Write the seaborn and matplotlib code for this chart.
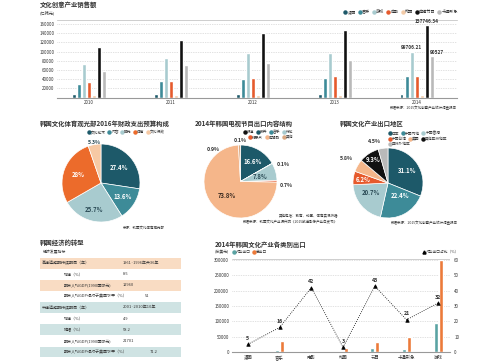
import numpy as np
import pandas as pd
import matplotlib
matplotlib.use("Agg")
import matplotlib.pyplot as plt
import seaborn as sns
from matplotlib.lines import Line2D

sns.set_theme(style="white")
plt.rcParams['font.family'] = ['Noto Sans CJK SC', 'DejaVu Sans']
plt.rcParams['axes.unicode_minus'] = False

# ---------------- data ----------------
years = ['2010', '2011', '2012', '2013', '2014']
sales_series = ['漫画', '音乐', '游戏', '电影', '动画', '电视节目', '卡通形象']
sales_comic = [6600, 6800, 7000, 7300, 7600]
sales_music = [29500, 36500, 39500, 42000, 46000]
sales_game = [73000, 86000, 96000, 97000, 99706.21]
sales_film = [33000, 37000, 43500, 46000, 46000]
sales_anim = [5000, 5200, 5300, 5300, 5400]
sales_tv = [111000, 126000, 141000, 147500, 157746.34]
sales_char = [57500, 70000, 75000, 82500, 90527]
sales_labeled = {'游戏': 'center', '电视节目': 'center', '卡通形象': 'left'}

budget_labels = ['文化艺术', '内容', '观光', '体育', '文化行政']
budget_share = [27.4, 13.6, 25.7, 28.0, 5.3]

tv_labels = ['报道', '教养', '音乐', '综艺', '纪录片', '电视剧', '其他']
tv_share = [0.1, 16.6, 0.1, 7.8, 0.7, 73.8, 0.9]

region_labels = ['日本', '中国内地', '中国香港', '中国台湾', '美国', '其他亚洲地区', '亚洲外地区']
region_share = [31.1, 22.4, 20.7, 6.2, 5.8, 9.3, 4.5]

econ_labels = ['高速追赶期持续期间（年）', '增速（%）', '期末人均GDP(1990国际元)',
               '期末人均GDP相对于美国水平（%）', '中速追赶期持续期间（年）', '增速（%）',
               '降幅（%）', '期末人均GDP(1990国际元)', '期末人均GDP相对于美国水平（%）']
econ_values = ['1961~1996年共36年', '8.5', '12960', '51', '2001~2010年10年',
               '4.9', '58.2', '21701', '71.2']

export_cats = ['漫画', '音乐', '电影', '动画', '节目', '卡通形象', '游戏']
export_china = [300, 5400, 1100, 400, 14400, 10300, 95000]
export_total = [2900, 35000, 2600, 14000, 33600, 48900, 300000]
china_ratio = [5, 16, 42, 3, 43, 21, 32]

# ---------------- styles ----------------
DT, TE, LB, OR, PE, BK, GR = '#1d5969', '#3d8b98', '#a8cbcf', '#e65a2c', '#f5b68a', '#111111', '#b9b9b9'
sales_colors = [DT, TE, LB, OR, '#f3cba8', BK, GR]
budget_colors = [DT, TE, LB, '#ec6b2b', '#f6c9a4']
tv_colors = [BK, DT, TE, LB, OR, PE, '#d9a882']
region_colors = [DT, TE, LB, OR, PE, BK, GR]
TXT = '#333333'

W, H = 500, 362
fig = plt.figure(figsize=(5, 3.62), dpi=100)
fig.patch.set_facecolor('white')


def px_axes(x0, y0, x1, y1):
    return fig.add_axes([x0 / W, 1 - y1 / H, (x1 - x0) / W, (y1 - y0) / H])


def ftext(x, y, s, **kw):
    kw.setdefault('va', 'center')
    kw.setdefault('color', TXT)
    return fig.text(x / W, 1 - y / H, s, **kw)


def legend_row(labels, colors, x, y, ha='right', marker='o', fs=2.7, ms=2.2):
    handles = [Line2D([], [], marker=marker, ls='', markerfacecolor=c,
                      markeredgecolor=c, markersize=ms) for c in colors]
    loc = 'center right' if ha == 'right' else 'center left'
    lg = fig.legend(handles, labels, loc=loc, bbox_to_anchor=(x / W, 1 - y / H),
                    ncol=len(labels), frameon=False, fontsize=fs, handlelength=0.5,
                    handletextpad=0.25, columnspacing=0.7, borderpad=0, borderaxespad=0)
    for t in lg.get_texts():
        t.set_color(TXT)
    return lg


# ---------------- top bar chart ----------------
sales_values = [sales_comic, sales_music, sales_game, sales_film, sales_anim, sales_tv, sales_char]
df_sales = pd.DataFrame([(y, s, v[i]) for s, v in zip(sales_series, sales_values)
                         for i, y in enumerate(years)], columns=['year', 'series', 'value'])
ax1 = px_axes(57, 20, 457, 97.5)
sns.barplot(data=df_sales, x='year', y='value', hue='series', hue_order=sales_series,
            order=years, palette=sales_colors, width=0.43, gap=0.3, saturation=1,
            legend=False, ax=ax1)
ax1.set_xlim(-0.39, 4.49)
ax1.set_ylim(0, 169000)
yt = np.arange(20000, 160001, 20000)
ax1.set_yticks(yt)
ax1.set_yticklabels([str(v) for v in yt])
ax1.yaxis.grid(True, linestyle=(0, (1, 1.5)), color='#c4c4c4', lw=0.5)
ax1.set_axisbelow(True)
for s in ['left', 'right']:
    ax1.spines[s].set_visible(False)
ax1.spines['bottom'].set_color('#999999')
ax1.spines['bottom'].set_linewidth(0.8)
ax1.spines['top'].set_color('#bbbbbb')
ax1.spines['top'].set_linewidth(0.5)
ax1.tick_params(axis='both', length=0, labelsize=3.2, colors=TXT, pad=2)
ax1.set_xlabel('')
ax1.set_ylabel('')
for si, s in enumerate(sales_series):
    if s in sales_labeled:
        bar = ax1.containers[si][len(years) - 1]
        v = sales_values[si][-1]
        lab = ('%.2f' % v).rstrip('0').rstrip('.')
        ha = sales_labeled[s]
        xx = bar.get_x() + (bar.get_width() / 2 if ha == 'center' else 0)
        ax1.text(xx, bar.get_height() + 3000, lab, ha=ha, va='bottom', fontsize=3.4,
                 fontweight='bold', color=TXT)

ftext(40, 5, '文化创意产业销售额', fontsize=4.6, fontweight='bold', ha='left')
ftext(40, 12.5, '(亿韩元)', fontsize=3.0, ha='left')
legend_row(sales_series, sales_colors, 458, 12, fs=3.0)
ftext(457, 108, '数据来源：2015文化创意产业统计调查报告', fontsize=2.5, ha='right')


# ---------------- pies ----------------
def draw_pie(box, shares, colors, label_spec):
    ax = px_axes(*box)
    wedges, _ = ax.pie(shares, colors=colors, startangle=90, counterclock=False,
                       wedgeprops=dict(edgecolor='white', linewidth=0.5))
    ax.set_xlim(-1, 1)
    ax.set_ylim(-1, 1)
    ax.set_aspect('equal')
    ax.axis('off')
    for w, v, (dist, nudge, col) in zip(wedges, shares, label_spec):
        th = np.deg2rad((w.theta1 + w.theta2) / 2 + nudge)
        lab = ('%.1f' % v).rstrip('0').rstrip('.') + '%'
        ax.text(dist * np.cos(th), dist * np.sin(th), lab, ha='center', va='center',
                fontsize=4.3 if dist < 1 else 3.8, fontweight='bold', color=col,
                clip_on=False)
    return ax


# pie 1
draw_pie((62, 144, 140, 222), budget_share, budget_colors,
         [(0.62, 0, 'white'), (0.65, 0, 'white'), (0.7, 0, '#2a4a55'),
          (0.62, 0, 'white'), (1.05, 0, '#2a4a55')])
ftext(40, 123, '韩国文化体育观光部2016年财政支出预算构成', fontsize=4.6, fontweight='bold', ha='left')
legend_row(budget_labels, budget_colors, 165, 132)
ftext(165, 228, '来源：韩国文化体育观光部', fontsize=2.5, ha='right')

# pie 2
draw_pie((203, 145, 278, 218), tv_share, tv_colors,
         [(1.12, 0, TXT), (0.65, 0, 'white'), (1.25, -8, TXT), (0.55, 0, '#2a4a55'),
          (1.25, -5, TXT), (0.52, 0, '#3a2a20'), (1.15, 38, TXT)])
ftext(195, 123, '2014年韩国电视节目出口内容结构', fontsize=4.6, fontweight='bold', ha='left')
legend_row(tv_labels[:4], tv_colors[:4], 293, 132)
legend_row(tv_labels[4:], tv_colors[4:], 293, 137.5)
ftext(338, 216, '其他包括：教育、动画、体育实况转播', fontsize=2.5, ha='right')
ftext(338, 222, '数据来源：韩国文化产业振兴院《2015放送影像产业白皮书》', fontsize=2.5, ha='right')

# pie 3
draw_pie((353, 148, 423, 218), region_share, region_colors,
         [(0.65, 0, 'white'), (0.5, 15, 'white'), (0.55, -12, '#2a4a55'),
          (0.72, 0, 'white'), (1.38, 0, TXT), (0.8, 0, 'white'), (1.25, 10, TXT)])
ftext(340, 123, '韩国文化产业出口地区', fontsize=4.6, fontweight='bold', ha='left')
legend_row(region_labels[:3], region_colors[:3], 389, 133.5, ha='left')
legend_row(region_labels[3:6], region_colors[3:6], 389, 139, ha='left')
legend_row(region_labels[6:], region_colors[6:], 389, 144.5, ha='left')
ftext(458, 223.5, '数据来源：2015文化创意产业统计调查报告', fontsize=2.5, ha='right')

# ---------------- table ----------------
axt = px_axes(40, 257.5, 181, 357.5)
n = len(econ_labels)
rows = np.arange(n)
band_colors = ['#f9dcc3', 'white', '#f9dcc3', 'white', '#cfe3e3', 'white', '#cfe3e3', 'white', '#cfe3e3']
axt.barh(rows, [141] * n, left=40, height=0.98, color=band_colors, linewidth=0)
axt.set_xlim(40, 181)
axt.set_ylim(n - 0.5, -0.5)
axt.axis('off')
indent = [False, True, True, True, False, True, True, True, True]
val_x = [123, 123, 123, 145, 123, 123, 123, 123, 150]
for i in range(n):
    axt.text(64 if indent[i] else 42, i, econ_labels[i], fontsize=2.9, va='center', ha='left', color=TXT)
    axt.text(val_x[i], i, econ_values[i], fontsize=2.9, va='center', ha='left', color=TXT)
ftext(40, 243, '韩国经济的转型', fontsize=4.6, fontweight='bold', ha='left')
ftext(43, 252, '经济发展指标', fontsize=2.8, ha='left')

# ---------------- export chart ----------------
df_exp = pd.DataFrame({'cat': export_cats * 2,
                       'series': ['对华出口'] * len(export_cats) + ['总出口'] * len(export_cats),
                       'value': export_china + export_total})
exp_colors = ['#5aa3a3', '#ec7a3a']
axe = px_axes(232, 258.5, 450, 352)
sns.barplot(data=df_exp, x='cat', y='value', hue='series', hue_order=['对华出口', '总出口'],
            order=export_cats, palette=exp_colors, width=0.32, gap=0.25, saturation=1,
            legend=False, ax=axe)
axe.set_ylim(0, 305000)
yt2 = np.arange(0, 300001, 50000)
axe.set_yticks(yt2)
axe.set_yticklabels([str(v) for v in yt2])
axe.yaxis.grid(True, linestyle=(0, (1, 1.5)), color='#c4c4c4', lw=0.5)
axe.set_axisbelow(True)
for s in ['left', 'right', 'top']:
    axe.spines[s].set_visible(False)
axe.spines['bottom'].set_color('#999999')
axe.spines['bottom'].set_linewidth(0.8)
axe.tick_params(axis='both', length=0, labelsize=3.2, colors=TXT, pad=2)
axe.set_xlabel('')
axe.set_ylabel('')

ax2 = axe.twinx()
sns.pointplot(x=export_cats, y=china_ratio, ax=ax2, color='black', markers='^',
              linestyles=':', errorbar=None, markersize=2.6, linewidth=0.6)
ax2.set_ylim(0, 61)
ax2.set_yticks(np.arange(0, 61, 10))
ax2.tick_params(axis='y', length=0, labelsize=3.2, colors=TXT, pad=3)
ax2.tick_params(axis='x', length=0, labelbottom=False, labeltop=False)
for s in ['left', 'right', 'top', 'bottom']:
    ax2.spines[s].set_visible(False)
ax2.set_ylabel('')
ax2.set_xlabel('')
for i, v in enumerate(china_ratio):
    ax2.text(i, v + 2.2, str(v), ha='center', va='bottom', fontsize=3.8,
             fontweight='bold', color=TXT)
axe.set_xlim(-0.5, 6.37)
ax2.set_xlim(-0.5, 6.37)
axe.axhline(305000, color='#bbbbbb', lw=0.5)

ftext(215, 244, '2014年韩国文化产业各类别出口', fontsize=4.6, fontweight='bold', ha='left')
ftext(215, 252, '(万美元)', fontsize=2.8, ha='left')
legend_row(['对华出口', '总出口'], exp_colors, 233, 252, ha='left')
legend_row(['对华出口占比（%）'], ['black'], 459, 252, marker='^')

fig.savefig('out.png', dpi=100, facecolor='white')
